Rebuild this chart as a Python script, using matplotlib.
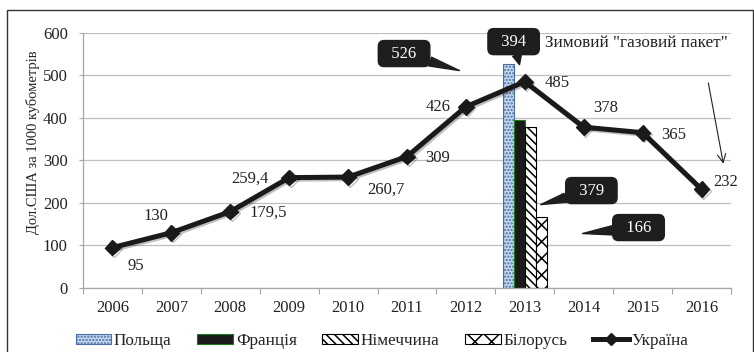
import numpy as np
import matplotlib
matplotlib.use("Agg")
import matplotlib.pyplot as plt
import matplotlib.patheffects as pe
from matplotlib.patches import Patch, Rectangle
from matplotlib.lines import Line2D

plt.rcParams["font.family"] = "serif"
plt.rcParams["font.serif"] = ["Liberation Serif", "DejaVu Serif"]
plt.rcParams["hatch.linewidth"] = 1.1

years = ["2006", "2007", "2008", "2009", "2010", "2011",
         "2012", "2013", "2014", "2015", "2016"]
ukraine = [95, 130, 179.5, 259.4, 260.7, 309, 426, 485, 378, 365, 232]
ukraine_labels = ["95", "130", "179,5", "259,4", "260,7", "309",
                  "426", "485", "378", "365", "232"]

# prices of the other countries, 2013 only
countries = ["Польща", "Франція", "Німеччина", "Білорусь"]
prices_2013 = [526, 394, 379, 166]
year_2013 = years.index("2013")

# label offsets (points) for each point of the line
label_dx = [17, -11, 27, -28, 27, 22, -20, 23, 16, 22, 17]
label_dy = [-13, 12, -1, -1, -9, -1, 0, -1, 14, -2, 5]

# callout boxes: (text position, arrow tip) in data units
callout_pos = [(4.95, 551, 5.89, 511),
               (6.81, 579, 6.91, 525),
               (8.13, 229, 7.27, 196),
               (8.93, 142, 7.98, 128)]

bar_styles = [
    dict(facecolor="#c6d9f1", edgecolor="#4a6fa5", hatch="....."),
    dict(facecolor="#1a1a1a", edgecolor="#1a7a1a", hatch=None),
    dict(facecolor="white", edgecolor="black", hatch="\\\\\\\\"),
    dict(facecolor="white", edgecolor="black", hatch="xx"),
]

fig = plt.figure(figsize=(7.54, 3.52), dpi=100)
ax = fig.add_axes([83 / 754, 64 / 352, 648 / 754, 255.3 / 352])

x = np.arange(len(years))
bw = 0.185
for i, (name, val, st) in enumerate(zip(countries, prices_2013, bar_styles)):
    ax.bar(x[year_2013] + (i - 1.5) * bw, val, bw, linewidth=0.8,
           label=name, zorder=2, **st)

ax.plot(x, ukraine, color="#1a1a1a", lw=3.6, marker="D", markersize=8,
        zorder=4, label="Україна",
        path_effects=[pe.SimpleLineShadow(offset=(1.2, -1.2), alpha=0.25),
                      pe.Normal()])

for xi, yi, txt, dx, dy in zip(x, ukraine, ukraine_labels, label_dx, label_dy):
    ax.annotate(txt, (xi, yi), xytext=(dx, dy), textcoords="offset points",
                ha="center", va="center", fontsize=12, color="#222222",
                zorder=5)

for val, (tx, ty, px, py) in zip(prices_2013, callout_pos):
    ax.annotate("  %d  " % val, xy=(px, py), xytext=(tx, ty),
                ha="center", va="center", fontsize=12, color="white",
                annotation_clip=False, zorder=6,
                bbox=dict(boxstyle="round,pad=0.3,rounding_size=0.35",
                          fc="#1e1e1e", ec="#1e1e1e"),
                arrowprops=dict(arrowstyle="wedge,tail_width=0.55",
                                fc="#1e1e1e", ec="#1e1e1e",
                                shrinkA=0, shrinkB=0))

ax.text(7.35, 575, 'Зимовий "газовий пакет"', ha="left", va="center",
        fontsize=12.3, color="#222222", zorder=5,
        bbox=dict(fc="white", ec="none", pad=1))
ax.annotate("", xy=(10.37, 292), xytext=(10.115, 482),
            arrowprops=dict(arrowstyle="->,head_length=0.6,head_width=0.3",
                            color="#222222", lw=0.8, shrinkA=0, shrinkB=0))

ax.set_xlim(-0.5, 10.5)
ax.set_ylim(0, 600)
ax.set_yticks(np.arange(0, 601, 100))
ax.set_xticks(np.arange(-0.5, 11, 1))
ax.set_xticklabels([])
ax.set_xticks(x, minor=True)
ax.set_xticklabels(years, minor=True)
ax.tick_params(axis="x", which="major", length=4, color="#a6a6a6")
ax.tick_params(axis="x", which="minor", length=0, pad=9, labelsize=12,
               labelcolor="#222222")
ax.tick_params(axis="y", length=3, color="#a6a6a6", pad=8, labelsize=12,
               labelcolor="#222222")
ax.grid(axis="y", color="#bfbfbf", lw=0.9, zorder=0)
ax.set_axisbelow(True)
for s in ["top", "right"]:
    ax.spines[s].set_visible(False)
for s in ["left", "bottom"]:
    ax.spines[s].set_color("#a6a6a6")
    ax.spines[s].set_linewidth(0.9)

ax.set_ylabel("Дол.США за 1000 кубометрів", fontsize=10.5, color="#222222",
              va="center")
ax.yaxis.set_label_coords(-0.077, 0.57)

handles = [Patch(label=n, linewidth=0.8, **st)
           for n, st in zip(countries, bar_styles)]
handles.append(Line2D([], [], color="#1a1a1a", lw=3.6, marker="D",
                      markersize=6, label="Україна"))
fig.legend(handles=handles, loc="center", ncol=5,
           bbox_to_anchor=(382 / 754, 1 - 341 / 352), frameon=False,
           fontsize=12.3, handlelength=2.1, handleheight=0.6,
           handletextpad=0.15, columnspacing=1.5, labelcolor="#222222")

fig.patches.append(Rectangle((7 / 754, -0.01), 746 / 754, 1.01 - 10 / 352,
                             transform=fig.transFigure, fill=False,
                             ec="#333333", lw=1.0))

fig.savefig("out.png", dpi=100)
